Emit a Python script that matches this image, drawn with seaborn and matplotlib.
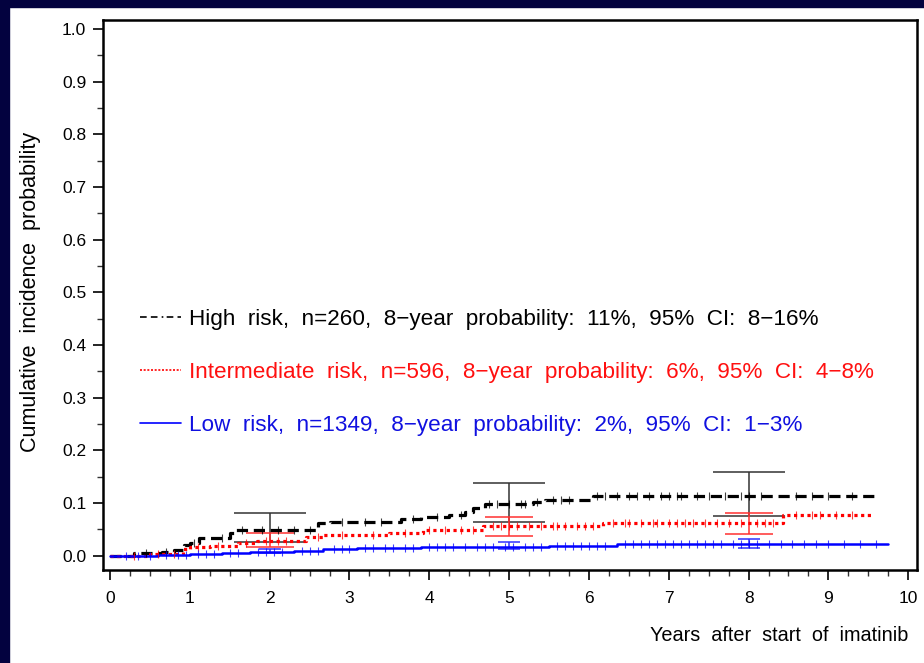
import numpy as np
import pandas as pd
import matplotlib
matplotlib.use("Agg")
import matplotlib.pyplot as plt
from matplotlib.lines import Line2D
from matplotlib.patches import Rectangle
from matplotlib import font_manager
import seaborn as sns

# ---------------- data ----------------
groups = ["High risk", "Intermediate risk", "Low risk"]
legend_labels = [
    "High  risk,  n=260,  8\u2212year  probability:  11%,  95%  CI:  8\u221216%",
    "Intermediate  risk,  n=596,  8\u2212year  probability:  6%,  95%  CI:  4\u22128%",
    "Low  risk,  n=1349,  8\u2212year  probability:  2%,  95%  CI:  1\u22123%",
]

times_high = [0, 0.3, 0.65, 0.8, 0.93, 1.0, 1.12, 1.5, 1.58, 2.6, 2.75, 3.65, 3.9, 4.25, 4.45, 4.55, 4.7, 5.3, 5.45, 6.05, 9.6]
vals_high = [0, 0.005, 0.008, 0.011, 0.021, 0.025, 0.034, 0.044, 0.048, 0.062, 0.065, 0.069, 0.073, 0.078, 0.084, 0.091, 0.098, 0.102, 0.106, 0.114, 0.114]

times_int = [0, 0.5, 0.92, 1.0, 1.25, 1.6, 1.84, 2.45, 2.67, 3.5, 3.92, 4.67, 6.18, 8.43, 9.55]
vals_int = [0, 0.004, 0.013, 0.017, 0.019, 0.024, 0.028, 0.036, 0.040, 0.044, 0.048, 0.056, 0.062, 0.078, 0.078]

times_low = [0, 0.6, 1.0, 1.4, 1.75, 2.3, 2.67, 3.1, 3.9, 4.35, 5.5, 6.35, 9.75]
vals_low = [0, 0.002, 0.004, 0.006, 0.008, 0.010, 0.012, 0.014, 0.016, 0.017, 0.019, 0.022, 0.022]

cens_high = [0.45, 0.7, 1.05, 1.4, 1.65, 1.9, 2.1, 2.3, 2.5, 2.9, 3.2, 3.4, 3.8, 4.1, 4.4,
             4.75, 4.85, 5.0, 5.15, 5.2, 5.35, 5.55, 5.65, 5.75, 6.1, 6.2, 6.35, 6.5, 6.6,
             6.75, 6.9, 7.0, 7.1, 7.15, 7.35, 7.5, 7.7, 7.9, 8.0, 8.15, 8.6, 8.8, 9.0, 9.3]
cens_int = [0.3, 0.6, 0.8, 1.1, 1.35, 1.7, 1.95, 2.1, 2.2, 2.6, 2.9, 3.3, 3.7, 4.0, 4.2,
            4.4, 4.55, 4.8, 4.9, 5.0, 5.1, 5.25, 5.4, 5.55, 5.6, 5.7, 5.85, 5.95, 6.05,
            6.3, 6.45, 6.5, 6.65, 6.8, 6.85, 7.0, 7.1, 7.2, 7.3, 7.45, 7.6, 7.75, 7.9,
            8.1, 8.2, 8.3, 8.6, 8.8, 8.9, 9.1, 9.3]
cens_low = [0.2, 0.35, 0.5, 0.7, 0.85, 0.95, 1.1, 1.2, 1.3, 1.5, 1.6, 1.85, 1.95, 2.05,
            2.15, 2.4, 2.5, 2.6, 2.8, 2.9, 3.0, 3.2, 3.3, 3.45, 3.55, 3.7, 3.8, 4.0, 4.1,
            4.2, 4.3, 4.45, 4.6, 4.7, 4.8, 4.95, 5.05, 5.2, 5.3, 5.4, 5.6, 5.7, 5.8, 5.9,
            6.0, 6.1, 6.2, 6.45, 6.55, 6.65, 6.75, 6.85, 6.95, 7.05, 7.15, 7.25, 7.35,
            7.45, 7.55, 7.65, 7.8, 7.9, 8.0, 8.1, 8.25, 8.4, 8.55, 8.7, 8.85, 9.0, 9.2,
            9.4, 9.6]

ci_x = [2, 5, 8]
ci_lo_high = [0.027, 0.064, 0.076]
ci_hi_high = [0.081, 0.138, 0.159]
ci_lo_int = [0.017, 0.037, 0.042]
ci_hi_int = [0.044, 0.073, 0.082]
ci_lo_low = [0.005, 0.012, 0.015]
ci_hi_low = [0.012, 0.026, 0.031]

x_ticks = [0, 1, 2, 3, 4, 5, 6, 7, 8, 9, 10]
y_ticks = [0.0, 0.1, 0.2, 0.3, 0.4, 0.5, 0.6, 0.7, 0.8, 0.9, 1.0]

# ---------------- style ----------------
sns.set_theme(style="white")
avail = {f.name for f in font_manager.fontManager.ttflist}
main_font = "Liberation Sans" if "Liberation Sans" in avail else "DejaVu Sans"
narrow_font = "Liberation Sans Narrow" if "Liberation Sans Narrow" in avail else main_font
plt.rcParams["font.family"] = [main_font, "DejaVu Sans"]

W, H = 924, 663
fig = plt.figure(figsize=(W / 100, H / 100), dpi=100, facecolor="white")
navy = "#03023f"
fig.patches.append(Rectangle((0, 0), 9 / W, 1, transform=fig.transFigure, color=navy, zorder=-5))
fig.patches.append(Rectangle((0, 1 - 7 / H), 1, 7 / H, transform=fig.transFigure, color=navy, zorder=-5))

ax_l, ax_r, ax_t, ax_b = 103, 917, 20, 570
ax = fig.add_axes([ax_l / W, 1 - ax_b / H, (ax_r - ax_l) / W, (ax_b - ax_t) / H])
ax.set_facecolor("white")

cols = {"High risk": "#000000", "Intermediate risk": "#ff0000", "Low risk": "#0000ff"}
text_cols = {"High risk": "#000000", "Intermediate risk": "#ff1010", "Low risk": "#1010e0"}
ci_cols = {"High risk": "#333333", "Intermediate risk": "#ff3030", "Low risk": "#3030ff"}
styles = {"High risk": (0, (3.5, 1.8)), "Intermediate risk": (0, (1.0, 1.1)), "Low risk": "-"}
series = {
    "High risk": (times_high, vals_high, cens_high, ci_lo_high, ci_hi_high, 26),
    "Intermediate risk": (times_int, vals_int, cens_int, ci_lo_int, ci_hi_int, 17),
    "Low risk": (times_low, vals_low, cens_low, ci_lo_low, ci_hi_low, 8),
}

for g in groups:
    t, v, c, lo, hi, cap = series[g]
    df = pd.DataFrame({"t": t, "v": v})
    sns.lineplot(data=df, x="t", y="v", drawstyle="steps-post", color=cols[g],
                 linestyle=styles[g], linewidth=2.3 if g != "Low risk" else 1.8,
                 estimator=None, sort=False, ax=ax, zorder=3)
    # censor marks on the curve
    idx = np.searchsorted(np.array(t), np.array(c), side="right") - 1
    cy = np.array(v)[idx]
    sns.scatterplot(x=c, y=cy, marker="|", s=30, color=cols[g], linewidth=0.8,
                    alpha=0.75, ax=ax, zorder=4)
    # confidence intervals
    lo = np.array(lo); hi = np.array(hi)
    mid = (lo + hi) / 2
    ax.errorbar(ci_x, mid, yerr=[mid - lo, hi - mid], fmt="none", ecolor=ci_cols[g],
                elinewidth=1.1, capsize=cap, capthick=1.1, zorder=2)

ax.set_xlim(-0.088, 10.11)
ax.set_ylim(-0.027, 1.017)
ax.set_xticks(x_ticks)
ax.set_xticklabels([str(x) for x in x_ticks], family=[narrow_font], fontsize=12.5, color="black")
ax.set_yticks(y_ticks)
ax.set_yticklabels([f"{y:.1f}" for y in y_ticks], family=[narrow_font], fontsize=12.5, color="black")
ax.set_xticks(np.arange(0, 10.01, 0.25), minor=True)
ax.set_yticks(np.arange(0, 1.001, 0.05), minor=True)
ax.tick_params(axis="both", which="major", direction="out", length=7, width=1.2, color="black",
               bottom=True, left=True)
ax.tick_params(axis="x", which="major", pad=8)
ax.tick_params(axis="y", which="major", pad=5)
ax.tick_params(axis="both", which="minor", direction="out", length=4, width=1.0, color="#333333",
               bottom=True, left=True)
for s in ax.spines.values():
    s.set_visible(True)
    s.set_color("black")
    s.set_linewidth(1.8)

ax.set_xlabel("Years  after  start  of  imatinib", fontsize=14.3, color="black")
ax.xaxis.set_label_coords((908 - ax_l) / (ax_r - ax_l), -(626 - ax_b) / (ax_b - ax_t))
ax.xaxis.label.set_ha("right")
ax.set_ylabel("Cumulative  incidence  probability", fontsize=15.5, color="black")
ax.yaxis.set_label_coords((41 - ax_l) / (ax_r - ax_l), (ax_b - 292) / (ax_b - ax_t))

handles = [Line2D([], [], color=cols[g], linestyle=styles[g] if g != "Intermediate risk" else (0, (1.2, 1.0)),
                  linewidth=1.2) for g in groups]
handles[0].set_linestyle((0, (4, 2.5, 4, 2.5, 1, 2)))
leg = ax.legend(handles, legend_labels, loc="upper left",
                bbox_to_anchor=((140 - ax_l) / (ax_r - ax_l), (ax_b - 309) / (ax_b - ax_t)),
                frameon=False, fontsize=16.2, handlelength=1.8,
                handletextpad=0.36, labelspacing=1.42, borderpad=0, borderaxespad=0)
for txt, g in zip(leg.get_texts(), groups):
    txt.set_color(text_cols[g])

fig.savefig("out.png", dpi=100, facecolor=fig.get_facecolor())
